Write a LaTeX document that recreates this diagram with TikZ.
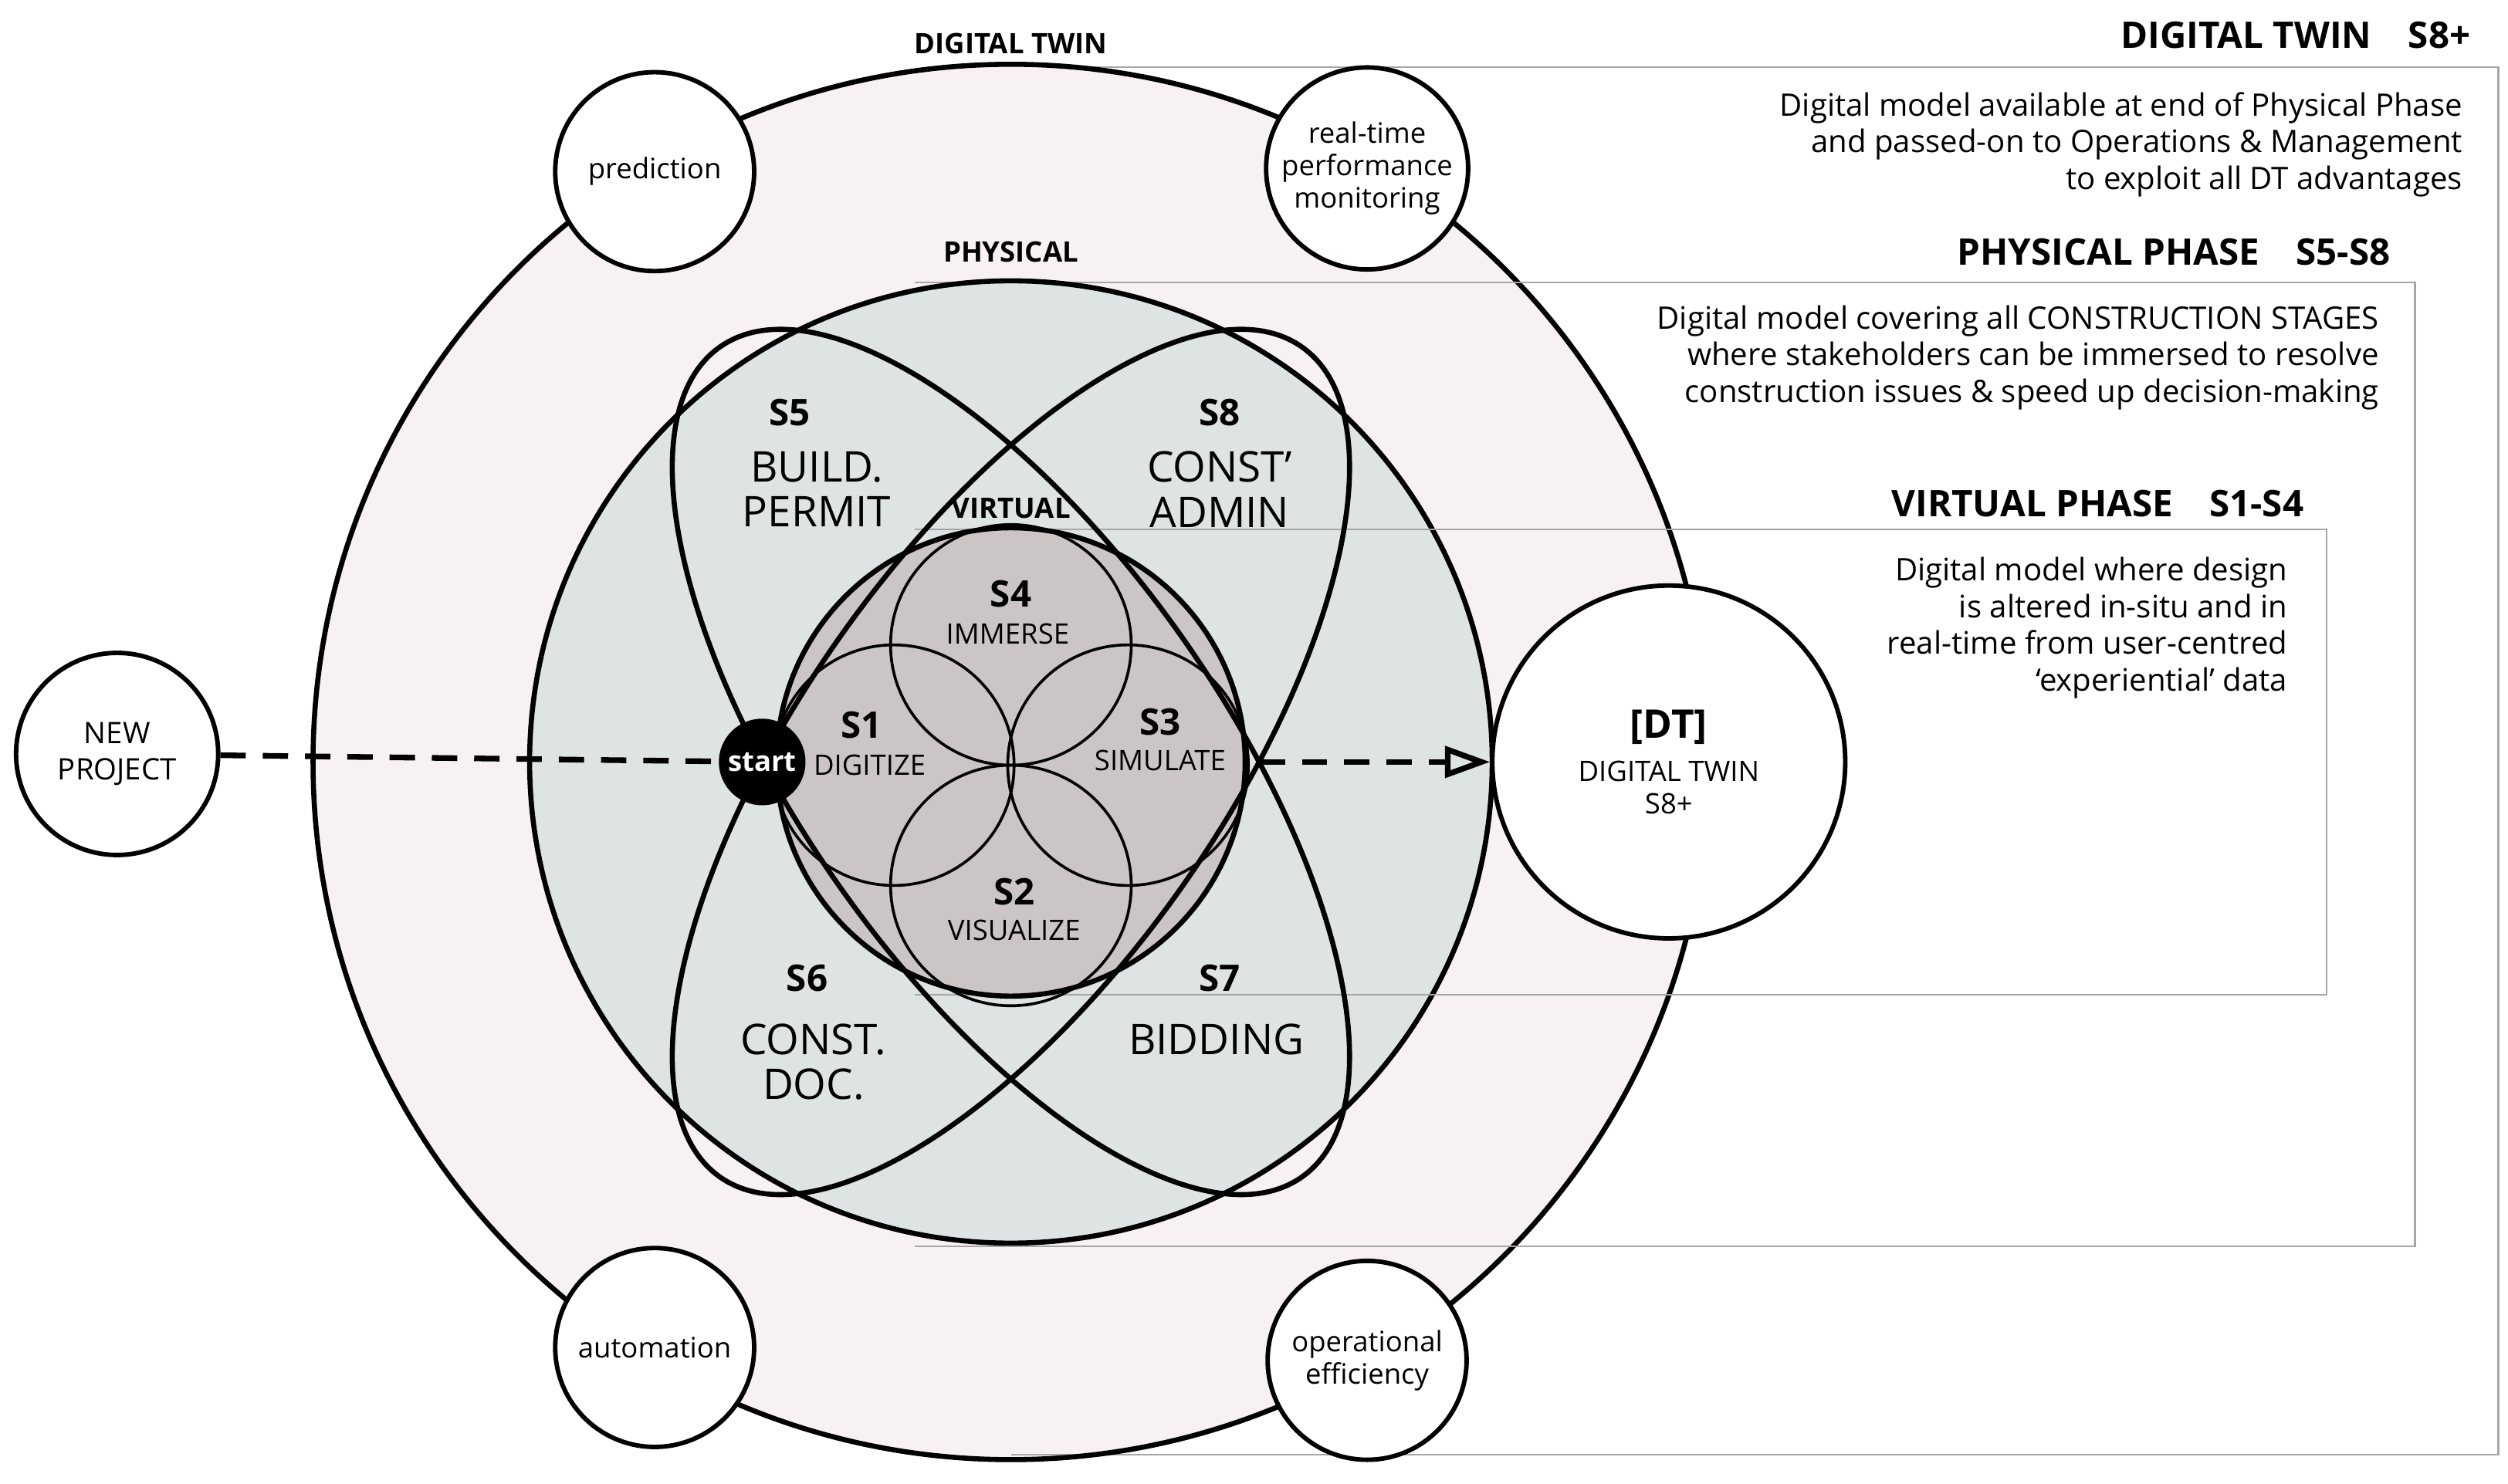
\documentclass[tikz,border=0pt]{standalone}
\usepackage{fontspec}
\setmainfont{Open Sans}
\usetikzlibrary{arrows.meta}
\definecolor{dtpink}{HTML}{F8F1F3}
\definecolor{physblue}{HTML}{DEE3E3}
\definecolor{virtgray}{HTML}{CCC5C5}
\tikzset{
every picture/.style={line width=1.8pt},
%%%%%%%%%%  Node styles
bubble/.style={circle,draw,fill=white,line width=1.6pt,align=center,
               font=\fontsize{10}{11.5}\selectfont,inner sep=1pt},
stage/.style={align=center,font=\fontsize{15}{16}\selectfont},
stagenum/.style={font=\bfseries\fontsize{13}{14}\selectfont},
phaselabel/.style={font=\bfseries\fontsize{10}{11}\selectfont},
header/.style={anchor=east,font=\bfseries\fontsize{13}{14}\selectfont},
blurb/.style={anchor=north east,align=right,font=\fontsize{11}{13}\selectfont},
phasebox/.style={draw=gray!70,line width=0.6pt},
flow/.style={dashed,line width=2pt,dash pattern=on 9pt off 6pt}
}
\begin{document}
\begin{tikzpicture}[x=0.02cm,y=0.02cm]
\useasboundingbox (0,0) rectangle (1563,-925);
%% outer digital twin disc
\fill[dtpink] (630,-475) circle (8.7cm);
\draw[phasebox] (660,-42) -- (1557,-42) -- (1557,-907) -- (630,-907);
\draw (630,-475) circle (8.7cm);
%% physical disc
\draw[phasebox] (570,-176) -- (1505,-176) -- (1505,-777) -- (570,-777);
\filldraw[fill=physblue] (630,-475) circle (6cm);
%% virtual disc
\draw[phasebox] (570,-330) -- (1450,-330) -- (1450,-620) -- (570,-620);
\filldraw[fill=virtgray] (630,-475) circle (2.92cm);
%% stage petals
\draw[line width=1pt] (630,-402) circle (1.5cm);
\draw[line width=1pt] (630,-552) circle (1.5cm);
\draw[line width=1pt] (557,-477) circle (1.5cm);
\draw[line width=1pt] (703,-477) circle (1.5cm);
%% ellipses
\draw[rotate around={-55:(630,-475)}] (630,-475) ellipse (6.32cm and 2.64cm);
\draw[rotate around={55:(630,-475)}] (630,-475) ellipse (6.32cm and 2.64cm);
%% phase labels
\node[phaselabel] (lbldt) at (630,-27) {DIGITAL TWIN};
\node[phaselabel] (lblphys) at (630,-157) {PHYSICAL};
\node[phaselabel] (lblvirt) at (630,-317) {VIRTUAL};
%% stages
\node[stagenum] (s5) at (492,-257) {S5};
\node[stage] (bp) at (509,-305) {BUILD.\\PERMIT};
\node[stagenum] (s8) at (760,-257) {S8};
\node[stage] (ca) at (760,-305) {CONST’\\ADMIN};
\node[stagenum] (s6) at (503,-610) {S6};
\node[stage] (cd) at (507,-662) {CONST.\\DOC.};
\node[stagenum] (s7) at (760,-610) {S7};
\node[stage] (bid) at (758,-648) {BIDDING};
\node[stagenum] (s4) at (630,-370) {S4};
\node[font=\fontsize{10}{11}\selectfont] (imm) at (628,-395) {IMMERSE};
\node[stagenum] (s1) at (537,-452) {S1};
\node[font=\fontsize{10}{11}\selectfont] (dig) at (542,-477) {DIGITIZE};
\node[stagenum] (s3) at (723,-450) {S3};
\node[font=\fontsize{10}{11}\selectfont] (sim) at (723,-474) {SIMULATE};
\node[stagenum] (s2) at (632,-556) {S2};
\node[font=\fontsize{10}{11}\selectfont] (vis) at (632,-580) {VISUALIZE};
%% bubbles
\node[bubble,minimum size=2.48cm] (pred) at (408,-107) {prediction};
\node[bubble,minimum size=2.48cm] (rtpm) at (852,-105) {real-time\\performance\\monitoring};
\node[bubble,minimum size=2.48cm] (auto) at (408,-840) {automation};
\node[bubble,minimum size=2.48cm] (opeff) at (852,-848) {operational\\efficiency};
\node[bubble,minimum size=2.52cm,font=\fontsize{10.5}{13}\selectfont] (newp) at (73,-470) {NEW\\PROJECT};
\node[bubble,minimum size=4.4cm] (dt) at (1040,-475)
  {\fontsize{14}{15}\selectfont\bfseries [DT]\\[4pt]DIGITAL TWIN\\S8+};
\node[circle,fill=black,minimum size=1.08cm,inner sep=0pt,text=white,
      font=\bfseries\fontsize{10}{11}\selectfont] (start) at (475,-475) {start};
\coordinate (vout) at (785,-475);
%% flow
\draw[flow] (newp) -- (start);
\draw[flow,-{Triangle[open,length=16pt,width=11pt]}] (vout) -- (dt);
%% right hand legend
\node[header] (hdt) at (1547,-22) {DIGITAL TWIN\quad S8+};
\node[blurb] (bdt) at (1542,-50) {Digital model available at end of Physical Phase\\and passed-on to Operations \& Management\\to exploit all DT advantages};
\node[header] (hphys) at (1497,-157) {PHYSICAL PHASE\quad S5-S8};
\node[blurb] (bphys) at (1490,-183) {Digital model covering all CONSTRUCTION STAGES\\where stakeholders can be immersed to resolve\\construction issues \& speed up decision-making};
\node[header] (hvirt) at (1443,-314) {VIRTUAL PHASE\quad S1-S4};
\node[blurb] (bvirt) at (1433,-340) {Digital model where design\\is altered in-situ and in\\real-time from user-centred\\‘experiential’ data};
\end{tikzpicture}
\end{document}
